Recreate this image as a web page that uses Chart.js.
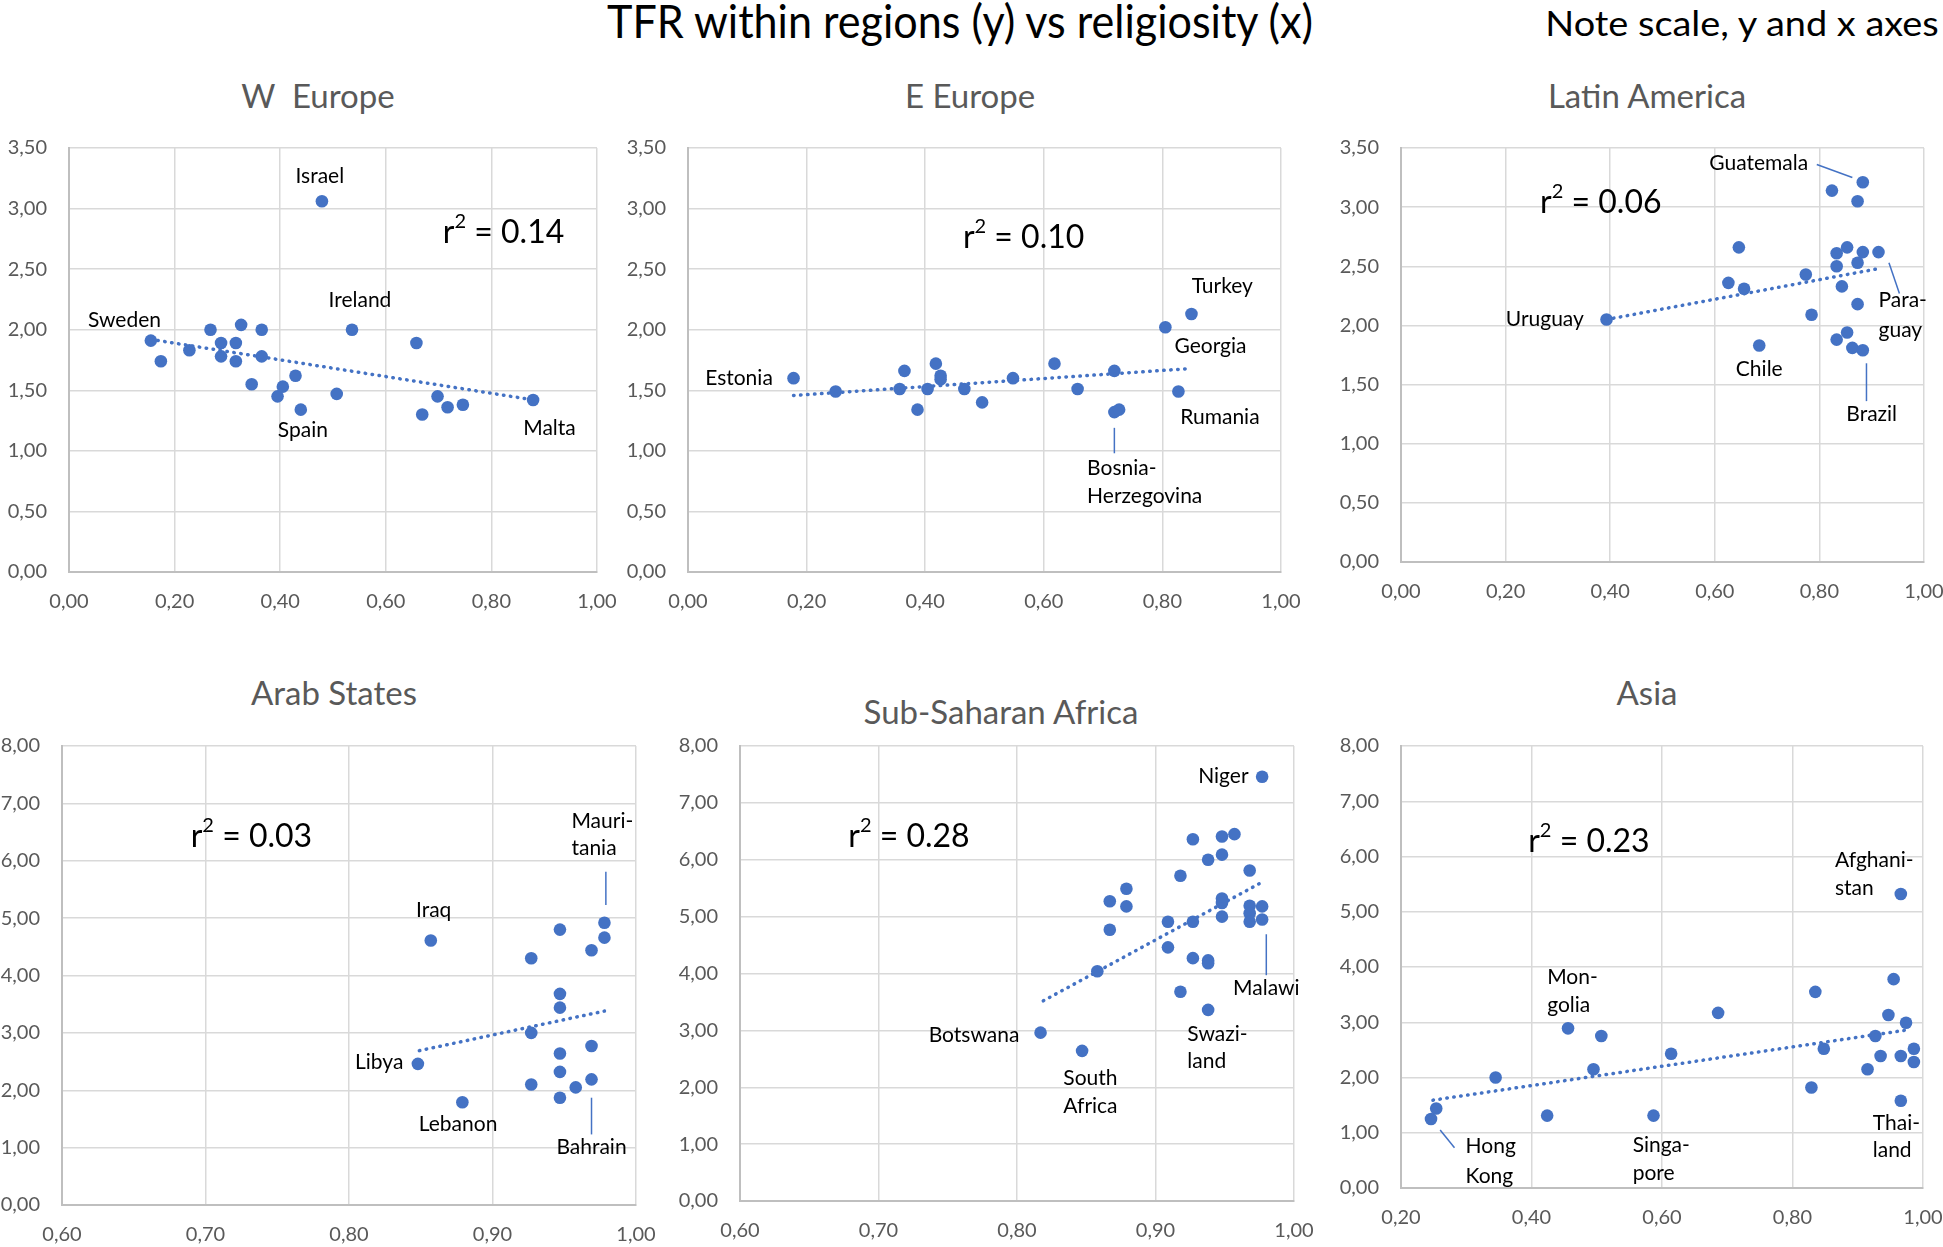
<!DOCTYPE html>
<html>
<head>
<meta charset="utf-8">
<script src="https://cdn.jsdelivr.net/npm/chart.js@4.4.1/dist/chart.umd.min.js"></script>
<style>
  body { margin:0; background:#fff; width:1943px; height:1247px; position:relative; overflow:hidden; font-family: Lato, sans-serif; }
  .txt { position:absolute; white-space:nowrap; transform:translate(-50%,-50%); line-height:1; }
  .main { color:#000; }
  .ptitle { font-size:33px; color:#595959; }
  canvas { position:absolute; }
</style>
</head>
<body>
<div class="txt main" id="mainTitle" data-w="706" style="left:960px;top:21px;font-size:46px">TFR within regions (y) vs religiosity (x)</div>
<div class="txt main" id="noteTitle" data-w="393" style="left:1742px;top:22px;font-size:35px">Note scale, y and x axes</div>
<div class="txt ptitle" style="left:318px;top:95px">W&nbsp;&nbsp;Europe</div>
<div class="txt ptitle" style="left:970px;top:95px">E Europe</div>
<div class="txt ptitle" style="left:1647px;top:95px">Latin America</div>
<div class="txt ptitle" style="left:334px;top:692px">Arab States</div>
<div class="txt ptitle" style="left:1001px;top:711px">Sub-Saharan Africa</div>
<div class="txt ptitle" style="left:1647px;top:692px">Asia</div>

<canvas id="wEurope"></canvas>
<canvas id="eEurope"></canvas>
<canvas id="latam"></canvas>
<canvas id="arab"></canvas>
<canvas id="ssa"></canvas>
<canvas id="asia"></canvas>

<script>
// religiosity (x) and TFR (y) per region
const wEuropeX = [0.155,0.174,0.228,0.268,0.288,0.288,0.316,0.316,0.326,0.365,0.365,0.346,0.395,0.405,0.429,0.439,0.479,0.507,0.536,0.658,0.669,0.698,0.717,0.746,0.879];
const wEuropeY = [1.91,1.74,1.83,2.00,1.89,1.78,1.89,1.74,2.04,2.00,1.78,1.55,1.45,1.53,1.62,1.34,3.06,1.47,2.00,1.89,1.30,1.45,1.36,1.38,1.42];
const wEuropeTrendX = [0.155, 0.88];
const wEuropeTrendY = [1.92, 1.42];

const eEuropeX = [0.178,0.249,0.357,0.365,0.387,0.404,0.418,0.426,0.426,0.466,0.496,0.548,0.618,0.657,0.719,0.719,0.727,0.805,0.849,0.827];
const eEuropeY = [1.60,1.49,1.51,1.66,1.34,1.51,1.72,1.62,1.59,1.51,1.40,1.60,1.72,1.51,1.66,1.32,1.34,2.02,2.13,1.49];
const eEuropeTrendX = [0.178, 0.849];
const eEuropeTrendY = [1.457, 1.68];

const latamX = [0.393,0.626,0.646,0.656,0.685,0.774,0.785,0.824,0.833,0.833,0.833,0.843,0.853,0.853,0.863,0.873,0.873,0.873,0.883,0.883,0.883,0.913];
const latamY = [2.05,2.36,2.66,2.31,1.83,2.43,2.09,3.14,2.61,2.50,1.88,2.33,2.66,1.94,1.81,3.05,2.53,2.18,3.21,2.62,1.79,2.62];
const latamTrendX = [0.393, 0.913];
const latamTrendY = [2.05, 2.48];

const arabX = [0.848,0.857,0.879,0.927,0.927,0.927,0.947,0.947,0.947,0.947,0.947,0.947,0.958,0.969,0.969,0.969,0.978,0.978];
const arabY = [2.46,4.61,1.79,4.30,3.00,2.10,4.80,3.68,3.44,2.64,2.32,1.87,2.05,4.44,2.77,2.19,4.92,4.66];
const arabTrendX = [0.849, 0.978];
const arabTrendY = [2.69, 3.38];

const ssaX = [0.817,0.847,0.858,0.867,0.867,0.879,0.879,0.909,0.909,0.918,0.918,0.927,0.927,0.927,0.938,0.938,0.938,0.938,0.948,0.948,0.948,0.948,0.948,0.957,0.968,0.968,0.968,0.968,0.977,0.977,0.977];
const ssaY = [2.96,2.64,4.04,5.27,4.77,5.49,5.18,4.91,4.46,5.72,3.68,6.36,4.91,4.27,6.00,4.23,4.18,3.36,6.41,6.09,5.32,5.24,5.00,6.45,5.81,5.19,5.06,4.91,5.18,4.95,7.46];
const ssaTrendX = [0.819, 0.978];
const ssaTrendY = [3.52, 5.62];

const asiaX = [0.246,0.254,0.345,0.424,0.456,0.495,0.507,0.587,0.614,0.686,0.829,0.835,0.848,0.915,0.927,0.935,0.947,0.955,0.966,0.966,0.966,0.974,0.986,0.986];
const asiaY = [1.25,1.44,2.00,1.31,2.89,2.15,2.75,1.31,2.43,3.17,1.82,3.55,2.52,2.15,2.75,2.39,3.13,3.78,5.32,2.39,1.58,2.99,2.52,2.28];
const asiaTrendX = [0.249, 0.981];
const asiaTrendY = [1.59, 2.87];

// annotations: [text, x, y, kind]  kind: c = centered, l = left aligned, r2 = r-squared value
const wEuropeNotes = [['Israel',0.475,3.27,'c'],['0.14',0.823,2.80,'r2'],['Ireland',0.551,2.24,'c'],['Sweden',0.105,2.08,'c'],['Spain',0.443,1.17,'c'],['Malta',0.91,1.19,'c']];
const eEuropeNotes = [['0.10',0.566,2.76,'r2'],['Turkey',0.901,2.36,'c'],['Georgia',0.881,1.86,'c'],['Estonia',0.086,1.60,'c'],['Rumania',0.897,1.28,'c'],['Bosnia-',0.673,0.86,'l'],['Herzegovina',0.673,0.625,'l']];
const latamNotes = [['Guatemala',0.684,3.37,'c'],['0.06',0.382,3.04,'r2'],['Uruguay',0.275,2.05,'c'],['Para-',0.913,2.21,'l'],['guay',0.913,1.96,'l'],['Chile',0.685,1.63,'c'],['Brazil',0.90,1.25,'c']];
const arabNotes = [['0.03',0.732,6.42,'r2'],['Mauri-',0.955,6.69,'l'],['tania',0.955,6.21,'l'],['Iraq',0.859,5.13,'c'],['Libya',0.821,2.49,'c'],['Lebanon',0.876,1.41,'c'],['Bahrain',0.969,1.00,'c']];
const ssaNotes = [['0.28',0.722,6.40,'r2'],['Niger',0.949,7.46,'c'],['Botswana',0.769,2.91,'c'],['South',0.853,2.16,'c'],['Africa',0.853,1.67,'c'],['Swazi-',0.923,2.94,'l'],['land',0.923,2.46,'l'],['Malawi',0.98,3.74,'c']];
const asiaNotes = [['0.23',0.488,6.27,'r2'],['Afghani-',0.865,5.93,'l'],['stan',0.865,5.42,'l'],['Mon-',0.424,3.81,'l'],['golia',0.424,3.31,'l'],['Hong',0.299,0.75,'l'],['Kong',0.299,0.22,'l'],['Singa-',0.555,0.77,'l'],['pore',0.555,0.26,'l'],['Thai-',0.923,1.17,'l'],['land',0.923,0.68,'l']];

// leader lines: [x1, y1, x2, y2]
const eEuropeLeaders = [[0.719,1.19,0.719,0.98]];
const latamLeaders = [[0.795,3.36,0.863,3.25],[0.933,2.53,0.953,2.27],[0.89,1.68,0.89,1.36]];
const arabLeaders = [[0.979,5.81,0.979,5.23],[0.969,1.87,0.969,1.23]];
const ssaLeaders = [[0.98,4.69,0.98,3.97]];
const asiaLeaders = [[0.26,1.05,0.282,0.73]];

const BLUE = '#4472C4';
const fmt = v => v.toFixed(2).replace('.', ',');
const pts = (xs, ys) => xs.map((x, i) => ({ x: x, y: ys[i] }));

// squeeze the page titles to the reference width
document.querySelectorAll('.main').forEach(el => {
  const k = +el.dataset.w / el.offsetWidth;
  el.style.transform = 'translate(-50%,-50%) scaleX(' + k + ')';
});

function drawR2(ctx, value, cx, cy) {
  const big = '32px Lato', small = '20px Lato';
  ctx.font = big;
  const wr = ctx.measureText('r').width;
  const rest = ' = ' + value;
  const wRest = ctx.measureText(rest).width;
  ctx.font = small;
  const w2 = ctx.measureText('2').width;
  let x = cx - (wr + w2 + wRest) / 2;
  ctx.textAlign = 'left';
  ctx.font = big;
  ctx.fillText('r', x, cy);
  x += wr;
  ctx.font = small;
  ctx.fillText('2', x, cy - 11);
  x += w2;
  ctx.font = big;
  ctx.fillText(rest, x, cy);
}

function makeNotes(items, leaders) {
  return {
    id: 'notes',
    afterDatasetsDraw(chart) {
      const ctx = chart.ctx, sx = chart.scales.x, sy = chart.scales.y;
      ctx.save();
      ctx.strokeStyle = BLUE;
      ctx.lineWidth = 1.5;
      leaders.forEach(l => {
        ctx.beginPath();
        ctx.moveTo(sx.getPixelForValue(l[0]), sy.getPixelForValue(l[1]));
        ctx.lineTo(sx.getPixelForValue(l[2]), sy.getPixelForValue(l[3]));
        ctx.stroke();
      });
      ctx.fillStyle = '#000';
      ctx.textBaseline = 'middle';
      items.forEach(n => {
        const px = sx.getPixelForValue(n[1]), py = sy.getPixelForValue(n[2]);
        if (n[3] === 'r2') {
          drawR2(ctx, n[0], px, py);
          return;
        }
        ctx.font = '21px Lato';
        ctx.textAlign = n[3] === 'l' ? 'left' : 'center';
        ctx.fillText(n[0], px, py);
      });
      ctx.restore();
    }
  };
}

// plot area boxes on the page: [left, top, right, bottom]
const panels = [
  { id:'wEurope', xs:wEuropeX, ys:wEuropeY, tx:wEuropeTrendX, ty:wEuropeTrendY, notes:wEuropeNotes, leaders:[], xMin:0, xStep:0.2, yMax:3.5, yStep:0.5, box:[69,148,597,572] },
  { id:'eEurope', xs:eEuropeX, ys:eEuropeY, tx:eEuropeTrendX, ty:eEuropeTrendY, notes:eEuropeNotes, leaders:eEuropeLeaders, xMin:0, xStep:0.2, yMax:3.5, yStep:0.5, box:[688,148,1281,572] },
  { id:'latam', xs:latamX, ys:latamY, tx:latamTrendX, ty:latamTrendY, notes:latamNotes, leaders:latamLeaders, xMin:0, xStep:0.2, yMax:3.5, yStep:0.5, box:[1401,148,1924,562] },
  { id:'arab', xs:arabX, ys:arabY, tx:arabTrendX, ty:arabTrendY, notes:arabNotes, leaders:arabLeaders, xMin:0.6, xStep:0.1, yMax:8, yStep:1, box:[62,746,636,1205] },
  { id:'ssa', xs:ssaX, ys:ssaY, tx:ssaTrendX, ty:ssaTrendY, notes:ssaNotes, leaders:ssaLeaders, xMin:0.6, xStep:0.1, yMax:8, yStep:1, box:[740,746,1294,1201] },
  { id:'asia', xs:asiaX, ys:asiaY, tx:asiaTrendX, ty:asiaTrendY, notes:asiaNotes, leaders:asiaLeaders, xMin:0.2, xStep:0.2, yMax:8, yStep:1, box:[1401,746,1923,1188] }
];

Chart.defaults.font.family = 'Lato';

panels.forEach(p => {
  const [L, T, R, B] = p.box;
  const padL = 75, padT = 40, padR = 45, padB = 45;
  const canvas = document.getElementById(p.id);
  canvas.width = (R - L) + padL + padR;
  canvas.height = (B - T) + padT + padB;
  canvas.style.left = (L - padL) + 'px';
  canvas.style.top = (T - padT) + 'px';

  new Chart(canvas.getContext('2d'), {
    type: 'scatter',
    data: {
      datasets: [
        {
          data: pts(p.xs, p.ys),
          backgroundColor: BLUE,
          borderWidth: 0,
          pointRadius: 6.3,
          order: 2
        },
        {
          data: pts(p.tx, p.ty),
          showLine: true,
          borderColor: BLUE,
          borderWidth: 3.5,
          borderDash: [0.5, 6.5],
          borderCapStyle: 'round',
          pointRadius: 0,
          order: 1
        }
      ]
    },
    options: {
      responsive: false,
      animation: false,
      devicePixelRatio: 1,
      layout: { padding: { left: 0, top: padT, right: padR, bottom: 0 } },
      plugins: { legend: { display: false }, tooltip: { enabled: false } },
      scales: {
        x: {
          type: 'linear',
          min: p.xMin,
          max: 1,
          afterFit: s => { s.height = padB; },
          grid: { color: '#d9d9d9', lineWidth: 1.5, drawTicks: false },
          border: { color: '#bfbfbf', width: 2 },
          ticks: {
            stepSize: p.xStep,
            padding: 18,
            color: '#595959',
            font: { size: 20 },
            maxRotation: 0,
            callback: v => fmt(v)
          }
        },
        y: {
          min: 0,
          max: p.yMax,
          afterFit: s => { s.width = padL; },
          grid: { color: '#d9d9d9', lineWidth: 1.5, drawTicks: false },
          border: { color: '#bfbfbf', width: 2 },
          ticks: {
            stepSize: p.yStep,
            padding: 22,
            color: '#595959',
            font: { size: 20 },
            callback: v => fmt(v)
          }
        }
      }
    },
    plugins: [makeNotes(p.notes, p.leaders)]
  });
});
</script>
</body>
</html>
